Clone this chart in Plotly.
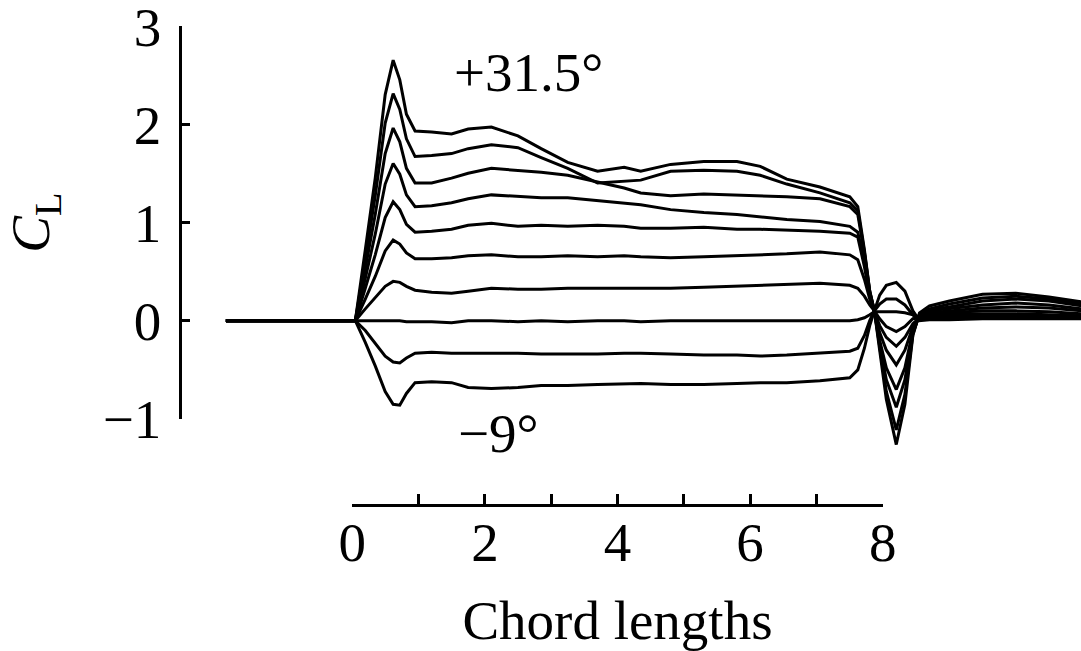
import plotly.graph_objects as go

# ---------------- data ----------------
chord = [-1.9, 0.0, 0.05, 0.2, 0.35, 0.5, 0.62, 0.72, 0.82, 0.95, 1.2, 1.5, 1.75, 2.1, 2.5,
         2.85, 3.25, 3.7, 4.1, 4.35, 4.8, 5.3, 5.8, 6.15, 6.55, 7.05, 7.5, 7.62, 7.72, 7.8,
         7.87, 7.95, 8.05, 8.2, 8.33, 8.45, 8.55, 8.7, 9.0, 9.5, 10.0, 10.5, 11.0]

cl_p31_5 = [0, 0, 0, 0.72, 1.45, 2.30, 2.65, 2.45, 2.10, 1.93, 1.92, 1.90, 1.95, 1.97, 1.88,
            1.75, 1.61, 1.52, 1.56, 1.52, 1.59, 1.62, 1.62, 1.57, 1.44, 1.36, 1.26, 1.16, 0.72, 0.30,
            0.10, -0.30, -0.80, -1.26, -0.85, -0.15, 0.08, 0.15, 0.20, 0.27, 0.28, 0.24, 0.19]
cl_p27 = [0, 0, 0, 0.62, 1.27, 2.01, 2.31, 2.15, 1.85, 1.67, 1.68, 1.70, 1.75, 1.79, 1.76,
          1.66, 1.55, 1.40, 1.42, 1.43, 1.52, 1.53, 1.52, 1.48, 1.39, 1.30, 1.20, 1.12, 0.70, 0.30,
          0.10, -0.28, -0.72, -1.11, -0.75, -0.14, 0.07, 0.12, 0.17, 0.23, 0.25, 0.22, 0.17]
cl_p22_5 = [0, 0, 0, 0.53, 1.08, 1.70, 1.96, 1.82, 1.55, 1.40, 1.40, 1.45, 1.50, 1.55, 1.53,
            1.51, 1.48, 1.41, 1.35, 1.30, 1.27, 1.29, 1.28, 1.27, 1.26, 1.24, 1.16, 1.08, 0.68, 0.29,
            0.10, -0.24, -0.60, -0.88, -0.60, -0.12, 0.06, 0.11, 0.14, 0.20, 0.22, 0.20, 0.15]
cl_p18 = [0, 0, 0, 0.43, 0.88, 1.39, 1.60, 1.49, 1.28, 1.16, 1.17, 1.20, 1.24, 1.28, 1.26,
          1.25, 1.25, 1.22, 1.20, 1.18, 1.13, 1.10, 1.08, 1.06, 1.03, 1.01, 0.96, 0.90, 0.60, 0.27,
          0.10, -0.20, -0.48, -0.70, -0.48, -0.10, 0.05, 0.10, 0.12, 0.16, 0.18, 0.16, 0.12]
cl_p13_5 = [0, 0, 0, 0.33, 0.67, 1.05, 1.21, 1.13, 0.98, 0.90, 0.91, 0.93, 0.97, 0.99, 0.96,
            0.97, 0.96, 0.97, 0.96, 0.94, 0.94, 0.95, 0.93, 0.93, 0.92, 0.91, 0.89, 0.85, 0.55, 0.25,
            0.10, -0.12, -0.30, -0.45, -0.30, -0.06, 0.04, 0.08, 0.10, 0.13, 0.14, 0.13, 0.10]
cl_p9 = [0, 0, 0, 0.22, 0.45, 0.71, 0.82, 0.78, 0.69, 0.63, 0.63, 0.64, 0.66, 0.67, 0.65,
         0.65, 0.66, 0.65, 0.66, 0.65, 0.64, 0.65, 0.66, 0.67, 0.68, 0.70, 0.67, 0.62, 0.42, 0.22,
         0.10, -0.05, -0.17, -0.26, -0.17, -0.03, 0.03, 0.07, 0.08, 0.10, 0.10, 0.09, 0.07]
cl_p4_5 = [0, 0, 0, 0.12, 0.24, 0.35, 0.40, 0.39, 0.35, 0.31, 0.29, 0.28, 0.30, 0.33, 0.32,
           0.32, 0.33, 0.33, 0.33, 0.33, 0.33, 0.34, 0.35, 0.36, 0.37, 0.38, 0.36, 0.33, 0.25, 0.16,
           0.10, 0.02, -0.06, -0.11, -0.06, 0.02, 0.03, 0.06, 0.07, 0.07, 0.07, 0.06, 0.05]
cl_0 = [0, 0, 0, 0.0, 0.0, 0.0, 0.0, 0.0, -0.01, -0.01, -0.01, -0.02, 0.0, 0.0, -0.01,
        0.0, -0.01, 0.0, 0.0, -0.01, 0.0, 0.0, 0.0, 0.0, 0.0, 0.0, 0.0, 0.01, 0.03, 0.06,
        0.09, 0.09, 0.09, 0.09, 0.08, 0.06, 0.03, 0.05, 0.05, 0.05, 0.05, 0.04, 0.04]
cl_m4_5 = [0, 0, 0, -0.10, -0.23, -0.36, -0.42, -0.43, -0.38, -0.33, -0.32, -0.33, -0.33, -0.33, -0.33,
           -0.34, -0.34, -0.34, -0.33, -0.33, -0.34, -0.35, -0.35, -0.36, -0.35, -0.33, -0.31, -0.28, -0.15, 0.0,
           0.10, 0.17, 0.22, 0.22, 0.16, 0.06, 0.01, 0.03, 0.03, 0.03, 0.03, 0.03, 0.03]
cl_m9 = [0, 0, 0, -0.22, -0.46, -0.72, -0.85, -0.86, -0.74, -0.63, -0.62, -0.63, -0.68, -0.69, -0.68,
         -0.66, -0.66, -0.65, -0.64, -0.64, -0.65, -0.65, -0.64, -0.63, -0.63, -0.61, -0.58, -0.50, -0.28, -0.05,
         0.10, 0.26, 0.36, 0.39, 0.30, 0.10, 0.0, 0.01, 0.01, 0.02, 0.02, 0.02, 0.02]

series = [cl_p31_5, cl_p27, cl_p22_5, cl_p18, cl_p13_5, cl_p9, cl_p4_5, cl_0, cl_m4_5, cl_m9]

x_ticks = [0, 2, 4, 6, 8]
x_ticklabels = ["0", "2", "4", "6", "8"]
x_minor_step = 1
y_ticks = [-1, 0, 1, 2, 3]
y_ticklabels = ["\u22121", "0", "1", "2", "3"]
label_top = "+31.5\u00b0"
label_bottom = "\u22129\u00b0"

# ---------------- figure ----------------
W, H = 1081, 651
FONT = "Liberation Serif, Times New Roman, serif"
FS = 55

fig = go.Figure()
for s in series:
    fig.add_trace(go.Scatter(x=chord, y=s, mode="lines", xaxis="x", yaxis="y",
                             line=dict(color="black", width=3), hoverinfo="skip",
                             showlegend=False))
# dummies so the display axes get drawn
fig.add_trace(go.Scatter(x=[None], y=[None], xaxis="x2", yaxis="y", showlegend=False, hoverinfo="skip"))
fig.add_trace(go.Scatter(x=[None], y=[None], xaxis="x", yaxis="y2", showlegend=False, hoverinfo="skip"))

# pixel geometry of the reference
px_x0, px_x8 = 352.0, 883.0
ppu_x = (px_x8 - px_x0) / 8.0
px_y0 = 320.7
ppu_y = 98.3
eps = 0.004

fig.update_layout(
    template="none",
    width=W, height=H,
    margin=dict(l=0, r=0, t=0, b=0, pad=0),
    paper_bgcolor="white", plot_bgcolor="rgba(0,0,0,0)",
    showlegend=False,
    font=dict(family=FONT, size=FS, color="black"),
    xaxis=dict(domain=[0, 1], range=[(0 - px_x0) / ppu_x, (W - px_x0) / ppu_x],
               visible=False, fixedrange=True, automargin=False),
    yaxis=dict(domain=[0, 1], range=[(px_y0 - H) / ppu_y, px_y0 / ppu_y],
               visible=False, fixedrange=True, automargin=False),
    xaxis2=dict(domain=[px_x0 / W, px_x8 / W], range=[0 - eps, 8 + eps], anchor="free",
                position=(H - 505) / H, side="bottom", automargin=False,
                showline=True, linecolor="black", linewidth=2.5,
                ticks="inside", ticklen=10, tickwidth=2.5, tickcolor="black",
                tickmode="array", tickvals=x_ticks, ticktext=x_ticklabels,
                ticklabelstandoff=-12, ticklabeloverflow="allow",
                minor=dict(tickmode="linear", tick0=0, dtick=x_minor_step, ticks="inside",
                           ticklen=10, tickwidth=2.5, tickcolor="black", showgrid=False),
                tickfont=dict(family=FONT, size=FS, color="black"),
                showgrid=False, zeroline=False, fixedrange=True,
                title=dict(text="Chord lengths", font=dict(family=FONT, size=FS, color="black"),
                           standoff=30)),
    yaxis2=dict(domain=[(H - 419.3) / H, (H - 26) / H], range=[-1 - eps, 3 + eps], anchor="free",
                position=180 / W, side="left", automargin=False,
                showline=True, linecolor="black", linewidth=2.5,
                ticks="inside", ticklen=8, tickwidth=2.5, tickcolor="black",
                tickmode="array", tickvals=y_ticks, ticktext=y_ticklabels,
                ticklabelstandoff=7, ticklabeloverflow="allow",
                tickfont=dict(family=FONT, size=FS, color="black"),
                showgrid=False, zeroline=False, fixedrange=True,
                title=dict(text="<i>C</i><sub>L</sub>", font=dict(family=FONT, size=FS, color="black"),
                           standoff=37)),
)

fig.add_annotation(x=(528 - px_x0) / ppu_x, y=(px_y0 - 72) / ppu_y, xref="x", yref="y",
                   text=label_top, showarrow=False, font=dict(family=FONT, size=FS, color="black"))
fig.add_annotation(x=(498 - px_x0) / ppu_x, y=(px_y0 - 433) / ppu_y, xref="x", yref="y",
                   text=label_bottom, showarrow=False, font=dict(family=FONT, size=FS, color="black"))

fig.write_html("out.html")
